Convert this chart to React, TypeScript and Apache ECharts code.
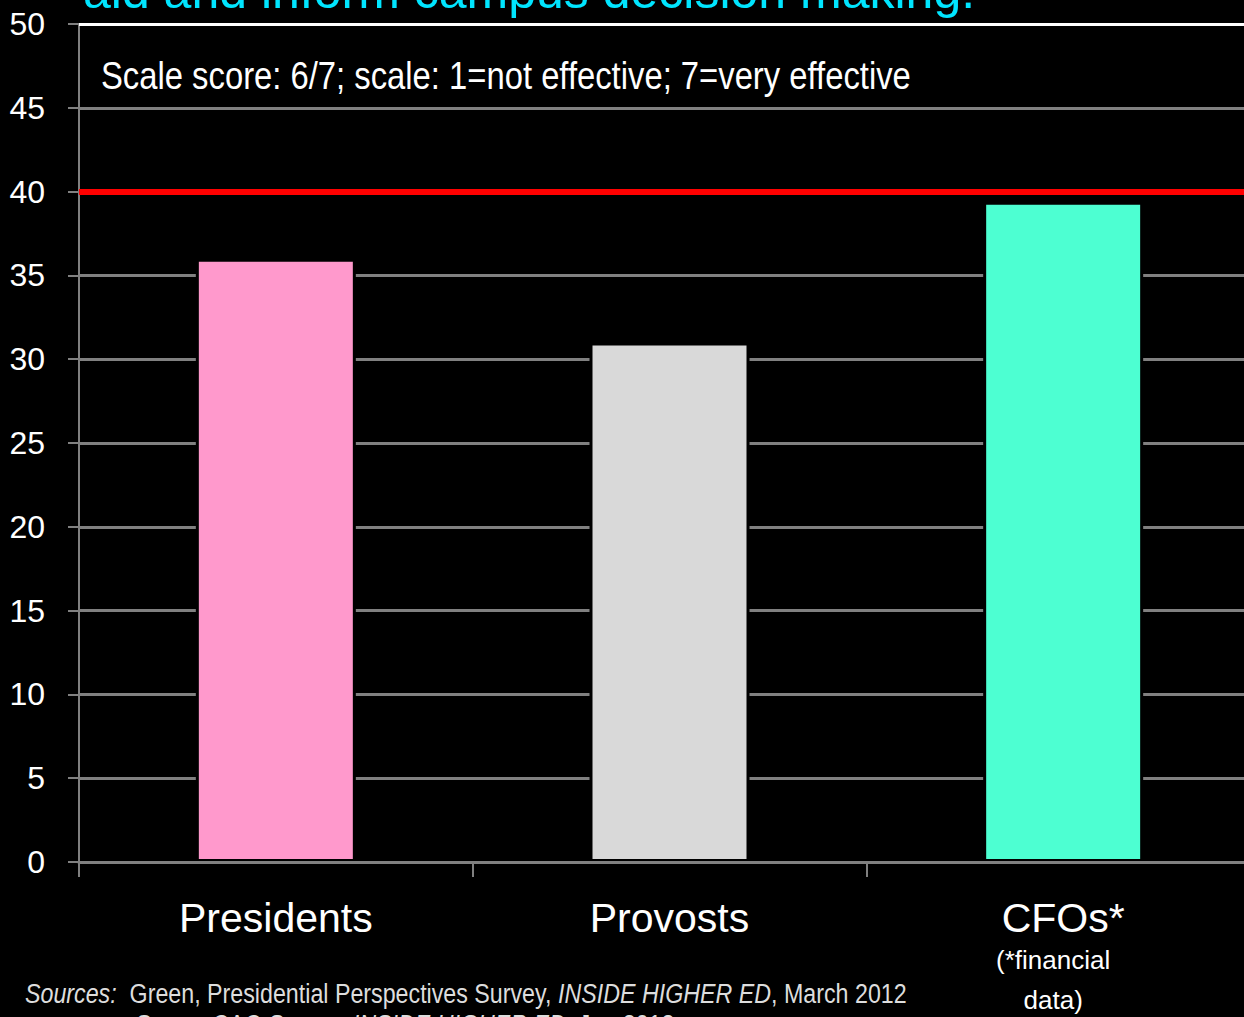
import React, { useEffect, useRef } from "react";
import * as echarts from "echarts";

const categories = ["Presidents", "Provosts", "CFOs*"];
const values = [36, 31, 39.4];
const barColors = ["#FF99CC", "#D9D9D9", "#4DFFD2"];
const benchmark = 40;
const yTicks = { min: 0, max: 50, interval: 5 };
const titleText = "aid and inform campus decision making.";
const subtitleText = "Scale score: 6/7; scale: 1=not effective; 7=very effective";
const sourceLine1 = "{i|Sources:}  Green, Presidential Perspectives Survey, {i|INSIDE HIGHER ED}, March 2012";
const sourceLine2 = "Green, CAO Survey, {i|INSIDE HIGHER ED}, Jan 2012";

const SANS = '"Liberation Sans", Arial, sans-serif';

export default function App() {
  const ref = useRef<HTMLDivElement>(null);
  useEffect(() => {
    if (!ref.current) return;
    const chart = echarts.init(ref.current, null, { renderer: "svg" });
    chart.setOption({
      animation: false,
      backgroundColor: "#000000",
      grid: { left: 79, right: 0, top: 24, bottom: 155 },
      xAxis: {
        type: "category",
        data: categories,
        z: 5,
        axisLine: { lineStyle: { color: "#808080", width: 3 } },
        axisTick: { show: true, length: 15, lineStyle: { color: "#808080", width: 2 } },
        axisLabel: {
          margin: 34,
          color: "#FFFFFF",
          fontFamily: SANS,
          fontSize: 41,
          formatter: (v: string) =>
            v === "CFOs*" ? "{c|CFOs*}\n{s|(*financial}\n{s|data)}" : "{c|" + v + "}",
          rich: {
            c: { fontFamily: SANS, fontSize: 41, color: "#FFFFFF", lineHeight: 44 },
            s: { fontFamily: SANS, fontSize: 26, color: "#FFFFFF", lineHeight: 40, padding: [0, 20, 0, 0] },
          },
          verticalAlign: "top",
        },
      },
      yAxis: {
        type: "value",
        min: yTicks.min,
        max: yTicks.max,
        interval: yTicks.interval,
        axisLine: { show: true, lineStyle: { color: "#808080", width: 2 } },
        axisTick: { show: true, length: 11, lineStyle: { color: "#808080", width: 2 } },
        axisLabel: { color: "#FFFFFF", fontFamily: SANS, fontSize: 32, margin: 34 },
        splitLine: { show: true, lineStyle: { color: "#808080", width: 3 } },
      },
      series: [
        {
          type: "bar",
          data: values.map((v, i) => ({ value: v, itemStyle: { color: barColors[i] } })),
          barWidth: 160,
          itemStyle: { borderColor: "#000000", borderWidth: 3 },
          markLine: {
            silent: true,
            symbol: "none",
            label: { show: false },
            data: [
              { yAxis: benchmark, lineStyle: { color: "#FF0000", width: 6, type: "solid" } },
              { yAxis: yTicks.max, lineStyle: { color: "#FFFFFF", width: 3, type: "solid" } },
            ],
          },
        },
      ],
      graphic: [
        {
          type: "text",
          x: 83,
          y: -34,
          style: { text: titleText, fill: "#00E5FF", font: "50px " + SANS },
        },
        {
          type: "text",
          x: 101,
          y: 57,
          scaleX: 0.863,
          style: { text: subtitleText, fill: "#FFFFFF", font: "38px " + SANS },
        },
        {
          type: "text",
          x: 25,
          y: 979,
          scaleX: 0.83,
          style: {
            text: sourceLine1,
            fill: "#DDDDDD",
            font: "28px " + SANS,
            rich: { i: { fontStyle: "italic", fontFamily: SANS, fontSize: 28, fill: "#DDDDDD" } },
          },
        },
        {
          type: "text",
          x: 135,
          y: 1010,
          scaleX: 0.83,
          style: {
            text: sourceLine2,
            fill: "#DDDDDD",
            font: "28px " + SANS,
            rich: { i: { fontStyle: "italic", fontFamily: SANS, fontSize: 28, fill: "#DDDDDD" } },
          },
        },
      ],
    });
    return () => chart.dispose();
  }, []);
  return (
    <div
      style={{ position: "absolute", left: 0, top: 0, width: 1244, height: 1017, overflow: "hidden", background: "#000" }}
    >
      <div ref={ref} style={{ width: 1260, height: 1017 }} />
    </div>
  );
}
